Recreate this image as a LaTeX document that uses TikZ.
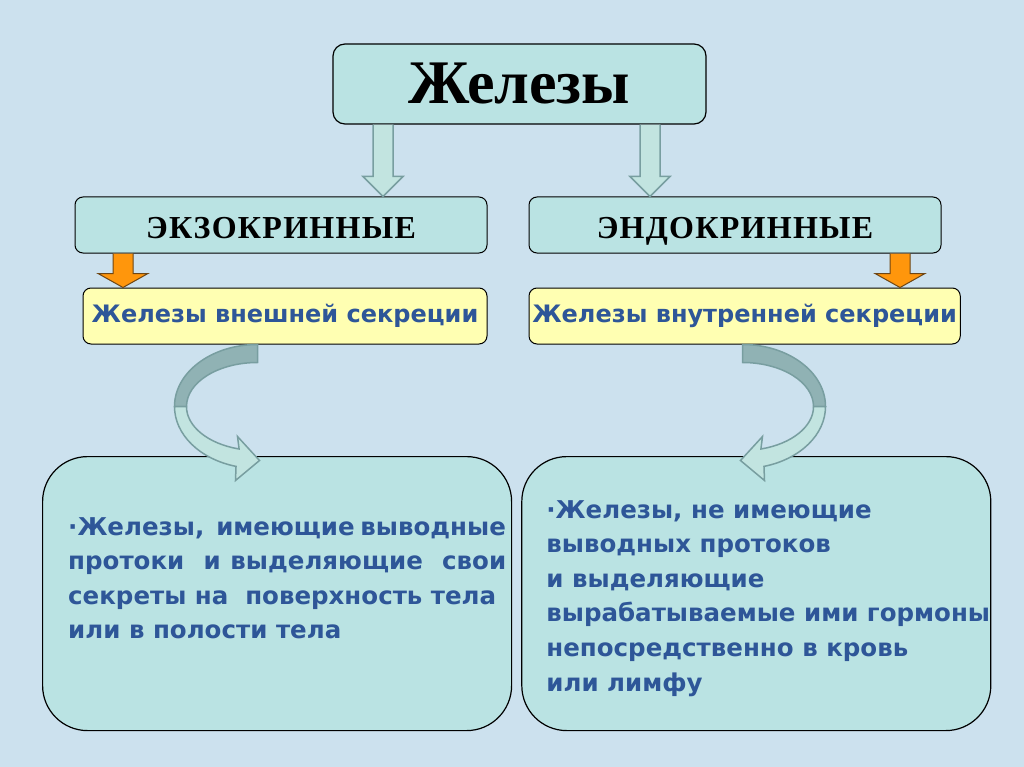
\documentclass[tikz,border=0pt]{standalone}
\usepackage{fontspec}
\setmainfont{Liberation Serif}
\newfontfamily\capsfont{Liberation Serif}[LetterSpace=4]
\newfontfamily\comicfont{DejaVu Sans}
\usetikzlibrary{positioning,calc}

\definecolor{bgblue}{RGB}{204,225,238}
\definecolor{boxteal}{RGB}{186,227,227}
\definecolor{paleyellow}{RGB}{255,255,178}
\definecolor{textblue}{RGB}{46,86,152}
\definecolor{arrowteal}{RGB}{194,228,224}
\definecolor{arrowdark}{RGB}{144,178,180}
\definecolor{arrowline}{RGB}{120,158,160}
\definecolor{orangefill}{RGB}{255,150,12}
\definecolor{orangeline}{RGB}{110,70,20}

% block arrow: style, x, from node, to node, shaft half width, head half width, head length
\newcommand\blockarrow[7]{%
  \path[#1] let \p1=(#3.south), \p2=(#4.north) in
    (#2pt+#5pt,\y1) -- (#2pt+#5pt,\y2+#7pt) -- (#2pt+#6pt,\y2+#7pt) -- (#2pt,\y2)
    -- (#2pt-#6pt,\y2+#7pt) -- (#2pt-#5pt,\y2+#7pt) -- (#2pt-#5pt,\y1);}

\tikzset{
  %boxes
  headbox/.style={
    rectangle,
    rounded corners=12pt,
    draw=black, line width=1.2pt,
    fill=boxteal,
    minimum width=373pt,
    minimum height=80pt,
    font=\fontsize{62}{70}\selectfont\bfseries},
  kindbox/.style={
    rectangle,
    rounded corners=8pt,
    draw=black, line width=1pt,
    fill=boxteal,
    minimum width=412pt,
    minimum height=56pt,
    text height=28pt, text depth=0pt,
    font=\capsfont\fontsize{32}{34}\selectfont\bfseries},
  secbox/.style={
    rectangle,
    rounded corners=8pt,
    draw=black, line width=1pt,
    fill=paleyellow,
    text=textblue,
    minimum height=56pt,
    font=\comicfont\bfseries\fontsize{24}{26}\selectfont},
  infobox/.style={
    rectangle,
    rounded corners=45pt,
    draw=black, line width=1.2pt,
    fill=boxteal,
    minimum width=469pt,
    minimum height=274pt},
  infotext/.style={
    anchor=north west,
    inner sep=0pt,
    align=left,
    text=textblue,
    font=\comicfont\bfseries\fontsize{24.5}{34.6}\selectfont},
  %arrows
  greyarrow/.style={fill=arrowteal, draw=arrowline, line width=1.5pt},
  orangearrow/.style={fill=orangefill, draw=orangeline, line width=1pt},
  bend/.pic={
    \path[fill=arrowdark, draw=arrowline, line width=1.5pt]
      (0,-62) arc[start angle=270, end angle=180, x radius=83, y radius=62]
      -- (-71,0) arc[start angle=180, end angle=270, x radius=71, y radius=44] -- cycle;
    \path[fill=arrowteal, draw=arrowline, line width=1.5pt]
      (-83,0) arc[start angle=180, end angle=105, x radius=83, y radius=62]
      -- (-22,74) -- (2,54) -- (-20,30) -- (-18.4,42.5)
      arc[start angle=105, end angle=180, x radius=71, y radius=44] -- cycle;
  }
}

\begin{document}
\begin{tikzpicture}[x=1pt, y=-1pt]
\useasboundingbox[fill=bgblue] (0,0) rectangle (1024,767);

%nodes
\node[headbox] (glands) at (519.5,84) {Железы};

\node[kindbox] (exo) at (281,225) {ЭКЗОКРИННЫЕ};
\node[kindbox, right=41pt of exo] (endo) {ЭНДОКРИННЫЕ};

\node[secbox, minimum width=404pt, below right=34pt and 8pt of exo.south west] (exosec)
     {Железы внешней секреции};
\node[secbox, minimum width=429pt, below right=34pt and 0pt of endo.south west] (endosec)
     {Железы внутренней секреции};

\node[infobox, anchor=north west] (exoinfo) at (42,456) {};
\node[infobox, right=9pt of exoinfo] (endoinfo) {};

\node[infotext] (exotext) at ($(exoinfo.north west)+(26,61)$)
     {\makebox[432pt][s]{·Железы, \ имеющие выводные}\\
      \makebox[438pt][s]{протоки \ и выделяющие \ свои}\\
      \makebox[428pt][s]{секреты на \ поверхность тела}\\
      или в полости тела};
\node[infotext] (endotext) at ($(endoinfo.north west)+(25,44)$)
     {·Железы, не имеющие\\
      выводных протоков\\
      и выделяющие\\
      вырабатываемые ими гормоны\\
      непосредственно в кровь\\
      или лимфу};

%arrows
\blockarrow{greyarrow}{383}{glands}{exo}{10}{20}{20}
\blockarrow{greyarrow}{650}{glands}{endo}{10}{20}{20}
\blockarrow{orangearrow}{123}{exo}{exosec}{10}{25}{14}
\blockarrow{orangearrow}{900}{endo}{endosec}{10}{25}{14}

\pic at ($(exosec.south west)+(175,62)$) {bend};
\pic[xscale=-1] at ($(endosec.south west)+(214,62)$) {bend};

\end{tikzpicture}
\end{document}
